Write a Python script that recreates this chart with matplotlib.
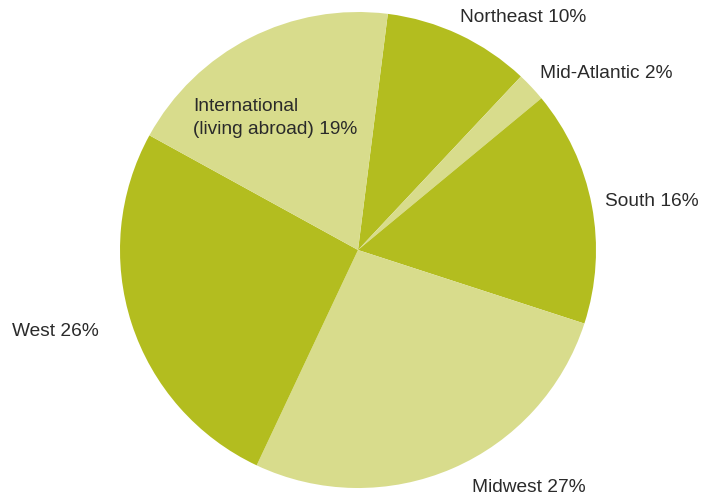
import matplotlib
matplotlib.use("Agg")
import matplotlib.pyplot as plt

regions = ["Northeast", "Mid-Atlantic", "South", "Midwest", "West", "International\n(living abroad)"]
shares = [10, 2, 16, 27, 26, 19]
colors = ["#b3bd1f", "#d8dc8c", "#b3bd1f", "#d8dc8c", "#b3bd1f", "#d8dc8c"]

# label anchor positions in pixels (left edge, vertical centre), top-left origin
label_pos = [(460, 17), (540, 74), (605, 201), (472, 488), (12, 331), (193, 118)]

W, H = 707, 495
fig = plt.figure(figsize=(W / 100, H / 100), dpi=100)
ax = fig.add_axes([0, 0, 1, 1])

ax.pie(shares, colors=colors, startangle=82.8, counterclock=False,
       center=(358, H - 250), radius=238, frame=True,
       wedgeprops=dict(linewidth=0))
ax.set_xlim(0, W)
ax.set_ylim(0, H)
ax.set_aspect("equal")
ax.axis("off")

for name, val, (x, y) in zip(regions, shares, label_pos):
    ax.text(x, H - y, f"{name} {val}%", ha="left", va="center",
            fontsize=13.8, color="#2a2a2a", family="Liberation Sans",
            linespacing=1.4)

fig.savefig("out.png", dpi=100)
